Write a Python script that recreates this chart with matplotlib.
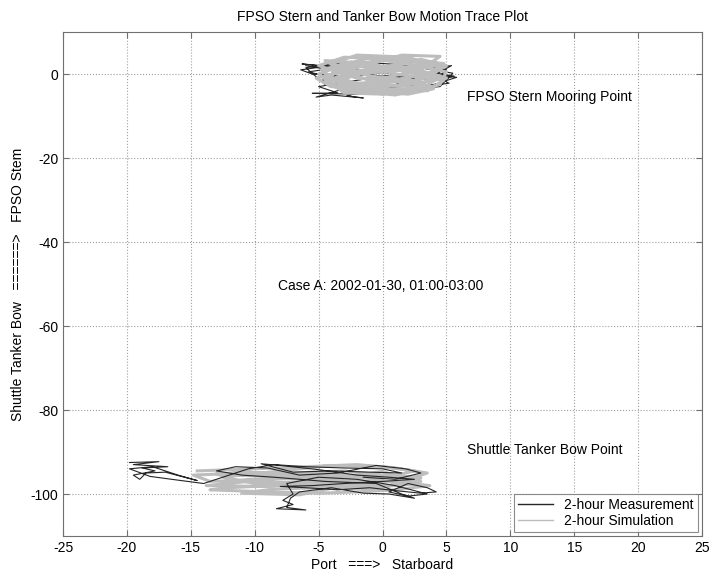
import matplotlib
matplotlib.use("Agg")
import matplotlib.pyplot as plt

plt.rcParams['font.family'] = ['Liberation Sans', 'DejaVu Sans']
plt.rcParams['axes.unicode_minus'] = False

# FPSO stern trace (measurement / simulation)
stern_meas_x = [-1.0, -4.5, -6.3, -3.0, 1.0, 4.5, 5.6, 3.0, -2.0, -5.0, -3.5, -5.5, -2.0, 0.5, 4.0,
                5.8, 2.5, -1.5, -5.8, -4.0, 0.0, 3.5, 5.0, 4.0, 0.0, -4.5, -6.0, -2.5, 1.5, 5.5,
                4.5, 1.0, -3.0, -5.2, -4.0, -1.5, -2.8, 1.0, 4.8, 3.2, -1.0, -5.5, -6.4, -3.5, 0.5,
                3.8, 5.2, 2.0, -2.5, -4.8, -1.0, 2.8, 5.4, 3.5, 0.0, -3.8, -6.0]
stern_meas_y = [0.5, 1.8, 2.4, 1.5, 0.0, -1.5, -0.5, 0.8, -1.5, -3.0, -4.5, -4.6, -4.8, -3.0, -2.5,
                -0.8, 0.5, 2.5, 0.5, -0.8, 1.0, 2.0, 1.0, -1.8, -2.0, -2.5, 1.5, 3.0, 2.2, 0.2,
                -3.0, -4.0, -3.5, -5.5, -5.0, -5.7, -5.2, -2.5, 1.8, -0.5, -1.0, 0.0, 1.0, 2.2, 1.8,
                0.2, -2.2, -3.5, -2.8, -1.5, 0.0, 1.2, 2.0, -1.2, -0.5, 0.8, 2.0]
stern_sim_x = [-2, 2, 4.8, 1, -3, -5, -2, 3, 5, 2, -1, -4.5, -3, 0, 4, 2, -1, -4, -5.2, -2,
               1.5, 4.5, 3, 0, -3, 1, 4.5, 5, 2, -1, -4.8, -3.5, 0.5, 3.5, 4.8, 1, -2.5, -5, -3, 0,
               3, 4.5, 2, -2, -4, -1, 2.5, 5, 3, 0, -3.5, -1, 2, 4, 1, -2.5,
               -4.5, -1.5, 1.5, 4.2, 2.5, -0.5, -3.8, -4.2, -0.5, 3.0, 4.6, 1.8, -2.0, -4.6, -2.2, 1.2,
               3.8, 0.5, -3.2, -1.8, 2.2, 4.0]
stern_sim_y = [0, 1, 2.5, 3.5, 4.0, 2.0, -1, -2, -1, 0.5, 2.5, 3.2, 0.5, -2.5, -3.5, -4.8, -4.2, -3, -1, 1.5,
               4.5, 4.2, 1, -1, -3.8, -5.0, -2.5, 0.5, 2.5, 3.8, 1, -2, -3.5, -4.0, -1.5, 0, 2.8, 0, -4.5, -4.8,
               -3, 1.5, 4.0, 4.5, 2.5, -0.5, -1.5, 2.0, 3.5, 1.5, -1, -3, -2.5, 0, 2, 0.5,
               -1.8, -3.2, -1.2, 0.8, 3.0, 3.2, 1.2, -2.8, -4.0, -3.6, -0.5, 1.2, 2.0, -0.8, -2.2, -1.8,
               -3.0, -4.2, -2.0, 0.8, 1.8, 3.0]

# Shuttle tanker bow trace (measurement / simulation)
bow_meas_x = [-19.8, -17.5, -19.5, -16.8, -18.8, -17.8, -19.5, -19.0, -18.5, -17.0, -15.5, -14.5, -16.0,
              -18.0, -19.8, -18.2, -16.5, -14.0, -13.0, -10.5, -8.5, -6.0, -3.0, 0.0, 1.5, -1.0, -4.0,
              -7.0, -9.5, -8.0, -5.0, -2.0, 0.5, 2.5, 0.0, -3.0, -5.5, -8.0, -6.0, -3.5, -1.0, 1.0, 3.0,
              4.2, 3.5, 2.0, 0.5, 2.0, 3.5, 1.0, -2.0, -5.0, -7.5, -7.0, -7.8, -7.0, -8.3, -6.0, -7.5,
              -7.2, -6.5, -4.0, -1.5, 0.5, 2.5, 1.5, -0.5, -4.5, -8.5, -11.0, -13.0, -11.5, -9.0, -6.5,
              -3.5, -0.5, 1.8, 3.0, 1.0, -1.5]
bow_meas_y = [-92.5, -92.3, -93.0, -93.5, -93.8, -94.5, -95.5, -96.5, -95.0, -94.8, -96.0, -96.8, -95.5,
              -93.5, -94.0, -95.8, -96.5, -97.5, -96.5, -94.0, -93.0, -93.5, -93.8, -94.0, -95.0, -94.8, -94.5,
              -94.8, -92.8, -93.2, -94.2, -95.5, -96.0, -96.5, -97.0, -97.5, -98.0, -98.2, -98.5, -99.0, -98.5,
              -99.2, -99.8, -99.5, -98.5, -97.5, -99.5, -100.5, -100.0, -98.0, -96.5, -96.0, -97.5, -100.0,
              -101.5, -102.5, -103.5, -103.8, -103.2, -101.0, -99.5, -98.5, -99.8, -100.0, -101.0, -100.0,
              -97.5, -97.0, -96.0, -95.5, -94.5, -93.5, -93.8, -95.5, -95.0, -93.2, -94.0, -95.0, -96.5, -96.0]
bow_sim_x = [-14.5, -10, -6, -2, 1, 3.5, 2, -1, -5, -9, -13.5, -14.8, -11, -7, -3, 0, 3, 0.5, -3.5, -7.5,
             -12, -13.5, -9, -5, -2, 1, 3.7, 1.5, -2, -6, -10, -12.5, -8, -4, 0, 2.5, -1, -4.5, -8.5, -11,
             -6.5, -3, 0, -4, -9.5, -13,
             -11.5, -7.0, -2.5, 2.0, 3.0, -0.5, -5.5, -10.5, -13.8, -9.0, -4.5, 0.0, 2.8, -1.5, -6.0, -12.0]
bow_sim_y = [-94.5, -94.0, -93.5, -93.0, -93.8, -95.0, -96.5, -95.5, -96.0, -96.5, -97.0, -95.5, -95.0, -95.0,
             -94.5, -95.5, -97.0, -98.0, -97.5, -97.8, -98.5, -99.0, -99.5, -99.8, -99.5, -99.0, -98.0, -97.2,
             -96.8, -97.0, -97.5, -96.0, -94.5, -93.2, -93.5, -94.5, -97.0, -98.5, -98.8, -99.8, -100.2, -98.0,
             -96.5, -95.2, -95.8, -95.2,
             -96.8, -96.2, -96.0, -95.8, -96.2, -98.8, -98.2, -97.0, -98.0, -98.2, -96.8, -94.6, -97.6, -98.5,
             -96.4, -94.2]

x_ticks = [-25, -20, -15, -10, -5, 0, 5, 10, 15, 20, 25]
y_ticks = [-100, -80, -60, -40, -20, 0]

meas_color = '#262626'
sim_color = '#bdbdbd'

fig = plt.figure(figsize=(7.12, 5.83), dpi=100)
ax = fig.add_axes([0.0885, 0.0806, 0.8975, 0.8645])

# stern: measurement under simulation
ax.plot(stern_meas_x, stern_meas_y, color=meas_color, lw=0.8, label='2-hour Measurement')
ax.plot(stern_sim_x, stern_sim_y, color=sim_color, lw=2.2, label='2-hour Simulation')
# bow: simulation under measurement
ax.plot(bow_sim_x, bow_sim_y, color=sim_color, lw=2.2)
ax.plot(bow_meas_x, bow_meas_y, color=meas_color, lw=0.8)

ax.set_xlim(-25, 25)
ax.set_ylim(-110, 10)
ax.set_xticks(x_ticks)
ax.set_yticks(y_ticks)
ax.grid(True, linestyle=':', color='#a0a0a0', linewidth=0.8)
ax.tick_params(direction='in', top=True, right=True, labelsize=10, color='#707070', length=4)
for s in ax.spines.values():
    s.set_color('#707070')

ax.set_title('FPSO Stern and Tanker Bow Motion Trace Plot', fontsize=10, pad=8)
ax.set_xlabel('Port   ===>   Starboard', fontsize=10, labelpad=2)
ax.set_ylabel('Shuttle Tanker Bow   ======>   FPSO Stem', fontsize=10, labelpad=4)

ax.text(6.6, -5.5, 'FPSO Stern Mooring Point', fontsize=10, va='center')
ax.text(-8.2, -50.4, 'Case A: 2002-01-30, 01:00-03:00', fontsize=10, va='center')
ax.text(6.6, -89.5, 'Shuttle Tanker Bow Point', fontsize=10, va='center')

leg = ax.legend(loc='lower right', fontsize=10, fancybox=False, edgecolor='#707070',
                borderaxespad=0.3, handlelength=2.5, labelspacing=0.1, borderpad=0.3)
leg.get_frame().set_linewidth(0.8)
for h in leg.get_lines():
    h.set_linewidth(1.0)

fig.savefig('out.png', dpi=100)
